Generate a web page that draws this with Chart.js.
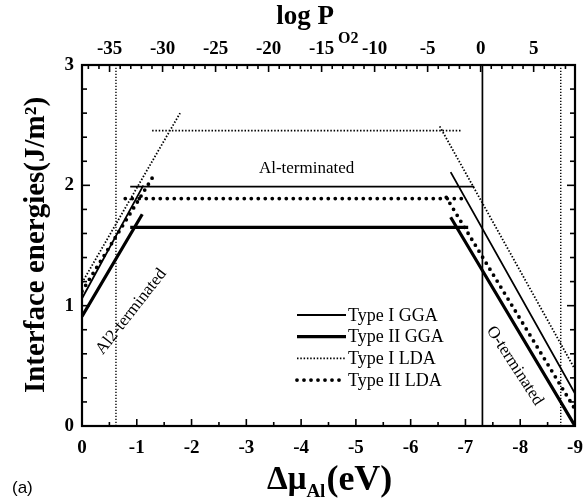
<!DOCTYPE html>
<html>
<head>
<meta charset="utf-8">
<script src="https://cdn.jsdelivr.net/npm/chart.js@4.4.0/dist/chart.umd.min.js"></script>
<style>
  html, body { margin: 0; padding: 0; background: #fff; }
</style>
</head>
<body>
<canvas id="chart" width="587" height="498"></canvas>
<script>
// points are [delta mu_Al (eV), interface energy (J/m^2)], null breaks the line
const typeIGGA  = [[0, 1.06], [-1.12, 2.00], null, [-0.88, 1.99], [-7.16, 1.99], null, [-6.73, 2.11], [-9, 0.27]];
const typeIIGGA = [[0, 0.91], [-1.10, 1.76], null, [-0.88, 1.65], [-7.05, 1.65], null, [-6.73, 1.735], [-9, 0.00]];
const typeILDA  = [[0, 1.19], [-1.79, 2.60], null, [-1.28, 2.455], [-6.92, 2.455], null, [-6.53, 2.49], [-9, 0.47]];
const typeIILDA = [[0, 1.12], [-1.28, 2.06], null, [-0.79, 1.89], [-7.05, 1.89], null, [-6.65, 1.90], [-9, 0.14]];

// vertical guide lines (eV)
const guideLines = [-0.62, -7.31, -8.74];
const guideDotted = [true, false, true];

const muTicks = [0, -1, -2, -3, -4, -5, -6, -7, -8, -9];
const logPTicks = [-35, -30, -25, -20, -15, -10, -5, 0, 5];
const energyTicks = [0, 1, 2, 3];

const muRange = [-9, 0];
const logPRange = [-37.6, 8.9];
const energyRange = [0, 3];

const serif = '"Liberation Serif", "Times New Roman", serif';
Chart.defaults.font.family = serif;
Chart.defaults.color = '#000';

const series = [
  { label: 'Type I GGA', data: typeIGGA, width: 1.8, dash: [], cap: 'butt' },
  { label: 'Type II GGA', data: typeIIGGA, width: 3.2, dash: [], cap: 'butt' },
  { label: 'Type I LDA', data: typeILDA, width: 1.8, dash: [1.5, 1.8], cap: 'butt' },
  { label: 'Type II LDA', data: typeIILDA, width: 3.8, dash: [0, 7], cap: 'round' }
];

const toPt = p => p ? { x: p[0], y: p[1] } : { x: null, y: null };

const datasets = series.map(s => ({
  label: s.label,
  data: s.data.map(toPt),
  borderColor: '#000',
  borderWidth: s.width,
  borderDash: s.dash,
  borderCapStyle: s.cap,
  pointRadius: 0,
  tension: 0,
  spanGaps: false,
  fill: false
}));

guideLines.forEach((v, i) => {
  datasets.push({
    label: 'guide' + i,
    data: [{ x: v, y: energyRange[0] }, { x: v, y: energyRange[1] }],
    borderColor: '#000',
    borderWidth: guideDotted[i] ? 1.4 : 1.7,
    borderDash: guideDotted[i] ? [1.2, 1.8] : [],
    pointRadius: 0,
    fill: false
  });
});

const setTicks = arr => scale => { scale.ticks = arr.map(v => ({ value: v })); };
const noSidePad = s => { s.paddingLeft = 0; s.paddingRight = 0; };

function line(ctx, x1, y1, x2, y2) {
  ctx.beginPath();
  ctx.moveTo(x1, y1);
  ctx.lineTo(x2, y2);
  ctx.stroke();
}

const decorations = {
  id: 'decorations',
  afterDraw(chart) {
    const { ctx, chartArea: a, scales } = chart;
    const xs = scales.x, top = scales.top, ys = scales.y;
    ctx.save();
    ctx.strokeStyle = '#000';
    ctx.fillStyle = '#000';

    // frame
    ctx.lineWidth = 2.2;
    ctx.setLineDash([]);
    ctx.strokeRect(a.left, a.top, a.right - a.left, a.bottom - a.top);

    // inward ticks
    ctx.lineWidth = 1.6;
    for (let v = 0; v >= -9; v -= 0.5) {
      const px = xs.getPixelForValue(v);
      const len = Number.isInteger(v) ? 7 : 4;
      line(ctx, px, a.bottom, px, a.bottom - len);
    }
    for (let v = -37; v <= 8; v++) {
      const px = top.getPixelForValue(v);
      const len = v % 5 === 0 ? 7 : 4;
      line(ctx, px, a.top, px, a.top + len);
    }
    for (let i = 0; i <= 15; i++) {
      const v = i * 0.2;
      const py = ys.getPixelForValue(v);
      const len = i % 5 === 0 ? 8 : 5;
      line(ctx, a.left, py, a.left + len, py);
      line(ctx, a.right, py, a.right - len, py);
    }

    // legend
    ctx.textBaseline = 'middle';
    ctx.textAlign = 'left';
    ctx.font = '18px ' + serif;
    series.forEach((s, i) => {
      const y = 315 + i * 21.7;
      ctx.lineWidth = s.width;
      ctx.setLineDash(s.dash);
      ctx.lineCap = s.cap;
      line(ctx, 297, y, 346, y);
      ctx.fillText(s.label, 348, y + 1);
    });
    ctx.setLineDash([]);
    ctx.lineCap = 'butt';

    // region labels
    const label = (text, xv, yv, deg, size) => {
      ctx.save();
      ctx.translate(xs.getPixelForValue(xv), ys.getPixelForValue(yv));
      ctx.rotate(deg * Math.PI / 180);
      ctx.font = size + 'px ' + serif;
      ctx.textAlign = 'center';
      ctx.fillText(text, 0, 0);
      ctx.restore();
    };
    label('Al-terminated', -4.1, 2.14, 0, 17);
    label('Al2-terminated', -0.9, 0.95, -52, 17);
    label('O-terminated', -7.9, 0.5, 57, 17);

    // axis titles
    ctx.textAlign = 'left';
    ctx.textBaseline = 'alphabetic';
    ctx.font = 'bold 33px ' + serif;
    let x = 267;
    ctx.fillText('Δμ', x, 489);
    x += ctx.measureText('Δμ').width;
    ctx.font = 'bold 19px ' + serif;
    ctx.fillText('Al', x, 497);
    x += ctx.measureText('Al').width + 1;
    ctx.font = 'bold 36px ' + serif;
    ctx.fillText('(eV)', x, 490);

    ctx.textAlign = 'right';
    ctx.font = 'bold 27px ' + serif;
    ctx.fillText('log P', 334, 24);
    ctx.textAlign = 'left';
    ctx.font = 'bold 16px ' + serif;
    ctx.fillText('O2', 338, 43);

    ctx.save();
    ctx.translate(44, 245);
    ctx.rotate(-Math.PI / 2);
    ctx.textAlign = 'center';
    ctx.font = 'bold 29px ' + serif;
    ctx.fillText('Interface energies(J/m²)', 0, 0);
    ctx.restore();

    ctx.font = '17px "Liberation Sans", Arial, sans-serif';
    ctx.textAlign = 'left';
    ctx.fillText('(a)', 12, 493);
    ctx.restore();
  }
};

new Chart(document.getElementById('chart'), {
  type: 'line',
  data: { datasets: datasets },
  options: {
    responsive: false,
    animation: false,
    layout: { padding: { right: 12 } },
    plugins: { legend: { display: false }, tooltip: { enabled: false } },
    scales: {
      x: {
        type: 'linear',
        position: 'bottom',
        min: muRange[0],
        max: muRange[1],
        reverse: true,
        afterBuildTicks: setTicks(muTicks),
        afterFit: s => { s.height = 72; noSidePad(s); },
        grid: { display: false, drawTicks: false },
        border: { display: false },
        ticks: { padding: 11, font: { size: 19, weight: 'bold' }, callback: v => String(v) }
      },
      top: {
        type: 'linear',
        position: 'top',
        min: logPRange[0],
        max: logPRange[1],
        afterBuildTicks: setTicks(logPTicks),
        afterFit: s => { s.height = 65; noSidePad(s); },
        grid: { display: false, drawTicks: false },
        border: { display: false },
        ticks: { padding: 5, font: { size: 19, weight: 'bold' }, callback: v => String(v) }
      },
      y: {
        type: 'linear',
        min: energyRange[0],
        max: energyRange[1],
        afterBuildTicks: setTicks(energyTicks),
        afterFit: s => { s.width = 82; s.paddingTop = 0; s.paddingBottom = 0; },
        grid: { display: false, drawTicks: false },
        border: { display: false },
        ticks: { padding: 8, font: { size: 19, weight: 'bold' }, callback: v => String(v) }
      }
    }
  },
  plugins: [decorations]
});
</script>
</body>
</html>
